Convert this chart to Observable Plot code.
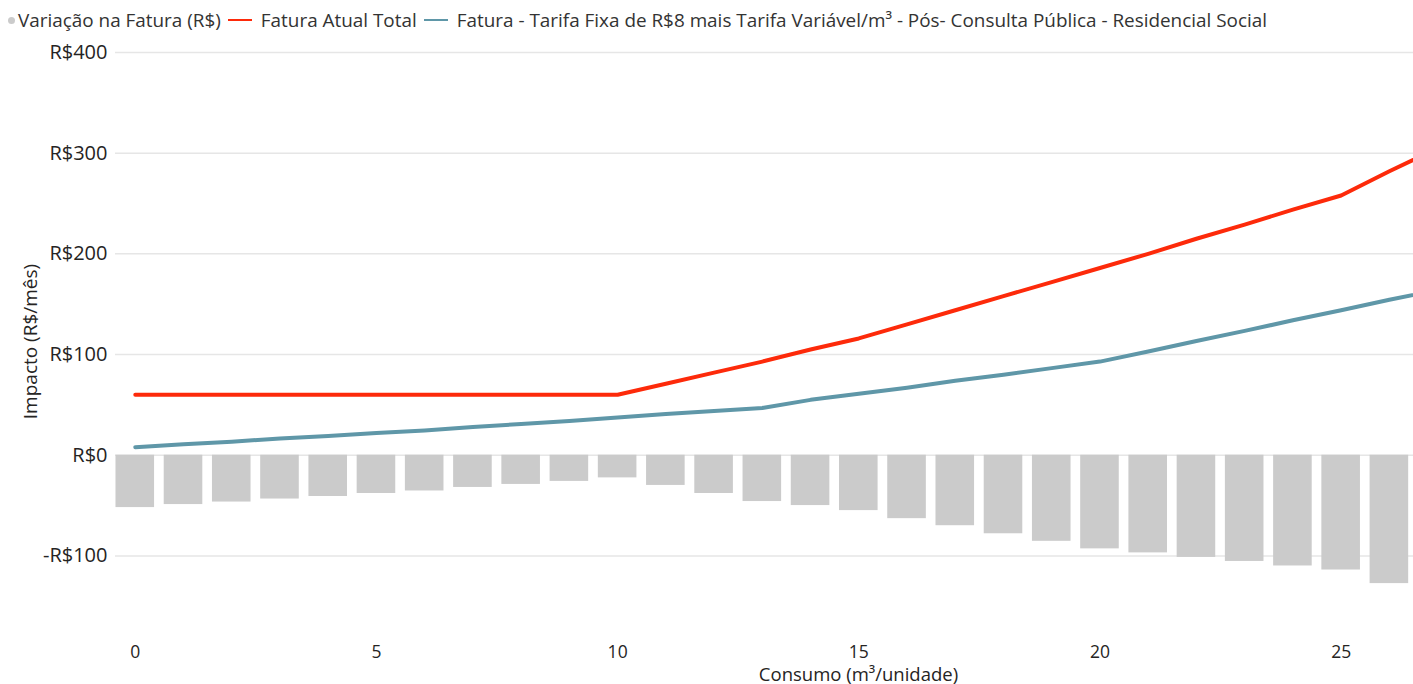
<!DOCTYPE html>
<html>
<head>
<meta charset="utf-8">
<script src="https://cdn.jsdelivr.net/npm/d3@7"></script>
<script src="https://cdn.jsdelivr.net/npm/@observablehq/plot@0.6"></script>
<style>
  html, body { margin: 0; padding: 0; background: #fff; }
  body { width: 1413px; height: 684px; overflow: hidden; font-family: "Open Sans", sans-serif; }
  #legend { height: 40px; display: flex; align-items: center; padding-left: 8px; font-size: 18.9px; color: #333; white-space: nowrap; }
  #legend .item { display: flex; align-items: center; margin-right: 7px; }
  #legend .dot { width: 7px; height: 7px; border-radius: 50%; background: #c8c8c8; margin-right: 3px; }
  #legend .ln { width: 24px; height: 2px; margin-right: 9px; }
  svg { display: block; }
</style>
</head>
<body>
<div id="legend"></div>
<div id="chart"></div>
<script>
// Consumo (m³/unidade)
const consumo = [0,1,2,3,4,5,6,7,8,9,10,11,12,13,14,15,16,17,18,19,20,21,22,23,24,25,26,27];
// Fatura Atual Total (R$)
const faturaAtual = [60,60,60,60,60,60,60,60,60,60,60,71,82,93,105,116,130,144,158,172,186,200,215,229,244,258,282,305];
// Fatura - Tarifa Fixa de R$8 mais Tarifa Variável/m³ - Pós- Consulta Pública - Residencial Social
const faturaNova = [8,11,13.5,16.5,19,22,24.5,28,31,34,37.5,41,44,47,55,61,67,74,80,86.5,93,103,113.5,123.5,134,144,154.5,164];
// Variação na Fatura (R$), consumo 0..26
const variacao = [-52,-49,-46.5,-43.5,-41,-38,-35.5,-32,-29,-26,-22.5,-30,-38,-46,-50,-55,-63,-70,-78,-85.5,-93,-97,-101.5,-105.5,-110,-114,-127.5];

const xTicks = [0,5,10,15,20,25];
const yTicks = [-100,0,100,200,300,400];

const seriesNames = ["Variação na Fatura (R$)", "Fatura Atual Total", "Fatura - Tarifa Fixa de R$8 mais Tarifa Variável/m³ - Pós- Consulta Pública - Residencial Social"];
const colors = ["#cbcbcb", "#fd2a0a", "#5f97a8"];

const bars = variacao.map((v, i) => ({x: consumo[i], v}));
const atual = faturaAtual.map((v, i) => ({x: consumo[i], v}));
const nova = faturaNova.map((v, i) => ({x: consumo[i], v}));

// legend
const legend = document.getElementById("legend");
seriesNames.forEach((name, i) => {
  const it = document.createElement("div");
  it.className = "item";
  const sw = document.createElement("div");
  sw.className = i === 0 ? "dot" : "ln";
  sw.style.background = colors[i];
  it.appendChild(sw);
  const t = document.createElement("span");
  t.textContent = name;
  it.appendChild(t);
  legend.appendChild(it);
});

const fmt = d => d < 0 ? "-R$" + (-d) : "R$" + d;
const font = "Open Sans, sans-serif";

const chart = Plot.plot({
  width: 1413,
  height: 644,
  marginLeft: 115,
  marginRight: 0,
  marginTop: 12,
  marginBottom: 42,
  style: {fontFamily: font, background: "#fff", overflow: "visible"},
  x: {domain: [-0.41, 26.5], ticks: xTicks, label: null},
  y: {domain: [-186, 400], ticks: yTicks, label: null},
  marks: [
    Plot.gridY(yTicks, {stroke: "#e6e6e6", strokeOpacity: 1, strokeWidth: 1.5}),
    Plot.rectY(bars, {x1: d => d.x - 0.4, x2: d => d.x + 0.4, y1: 0, y2: "v", fill: colors[0]}),
    Plot.line(atual, {x: "x", y: "v", stroke: colors[1], strokeWidth: 4, clip: true, strokeLinejoin: "round"}),
    Plot.line(nova, {x: "x", y: "v", stroke: colors[2], strokeWidth: 4, clip: true, strokeLinejoin: "round"}),
    Plot.axisY(yTicks, {tickSize: 0, tickPadding: 8, tickFormat: fmt, fontSize: 20, fill: "#252423", label: null}),
    Plot.axisX(xTicks, {tickSize: 0, tickPadding: 3, fontSize: 17.5, fill: "#252423", label: null}),
    Plot.text(["Consumo (m³/unidade)"], {frameAnchor: "bottom", dx: 94, dy: 33, fontSize: 18.5, fill: "#252423", textAnchor: "middle", lineAnchor: "middle"}),
    Plot.text(["Impacto (R$/mês)"], {frameAnchor: "left", rotate: -90, dx: -85, dy: -6, fontSize: 19, fill: "#252423", textAnchor: "middle", lineAnchor: "middle"})
  ]
});
document.getElementById("chart").appendChild(chart);
</script>
</body>
</html>
